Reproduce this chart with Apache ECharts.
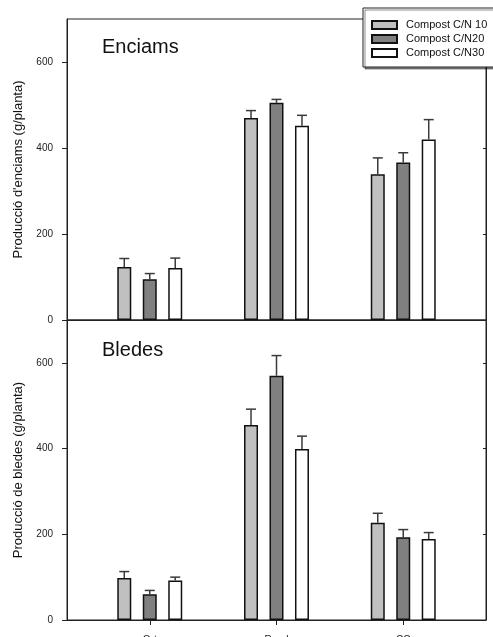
<!DOCTYPE html>
<html><head><meta charset="utf-8">
<script src="https://cdn.jsdelivr.net/npm/echarts@6/dist/echarts.min.js"></script>
<style>html,body{margin:0;padding:0;background:#fff}#c{width:493px;height:637px}</style>
</head><body><div id="c"></div>
<script>
const categories = ['Ort', 'Rural', 'CC'];
const seriesNames = ['Compost C/N 10', 'Compost C/N20', 'Compost C/N30'];
const enciamsCN10 = [123, 470, 339];
const enciamsCN20 = [95, 505, 366];
const enciamsCN30 = [121, 452, 420];
const enciamsErrCN10 = [20, 17, 38];
const enciamsErrCN20 = [13, 8, 23];
const enciamsErrCN30 = [23, 24, 46];
const bledesCN10 = [98, 455, 227];
const bledesCN20 = [60, 570, 193];
const bledesCN30 = [92, 399, 189];
const bledesErrCN10 = [15, 37, 22];
const bledesErrCN20 = [9, 47, 18];
const bledesErrCN30 = [8, 30, 15];
const yTicks = [0, 200, 400, 600];
const yRightTicks = [200, 400, 600];
const panelTitles = ['Enciams', 'Bledes'];
const yNames = ["Producció d'enciams (g/planta)", 'Producció de bledes (g/planta)'];

const FONT = 'Liberation Sans, Arial, Helvetica, sans-serif';
const barColors = ['#c0c0c0', '#808080', '#ffffff'];
const BAR_W = 14, BAR_GAP = 0.82;
const catIdx = categories.map((c, i) => i);

const panels = [
  { vals: [enciamsCN10, enciamsCN20, enciamsCN30], errs: [enciamsErrCN10, enciamsErrCN20, enciamsErrCN30] },
  { vals: [bledesCN10, bledesCN20, bledesCN30], errs: [bledesErrCN10, bledesErrCN20, bledesErrCN30] }
];

const axisLineStyle = { color: '#222', width: 1 };
const grids = [
  { left: 67, top: 19, width: 419, height: 301, show: true, borderColor: '#222', borderWidth: 1, containLabel: false, outerBoundsMode: 'none' },
  { left: 67, top: 320, width: 419, height: 300, show: true, borderColor: '#222', borderWidth: 1, containLabel: false, outerBoundsMode: 'none' }
];
const xAxes = [0, 1].map(g => ({
  gridIndex: g, type: 'value', min: -0.653, max: 2.653, position: 'bottom',
  axisLine: { show: true, onZero: false, lineStyle: axisLineStyle },
  splitLine: { show: false },
  axisTick: { show: g === 1, customValues: catIdx, length: 5, lineStyle: axisLineStyle },
  axisLabel: { show: g === 1, customValues: catIdx, formatter: v => categories[Math.round(v)] || '',
    margin: 15, fontSize: 10, color: '#222', fontFamily: FONT }
}));
const yAxes = [];
[0, 1].forEach(g => {
  yAxes.push({
    gridIndex: g, type: 'value', min: 0, max: 700, position: 'left',
    name: yNames[g], nameLocation: 'middle', nameGap: 38,
    nameTextStyle: { fontSize: 13, color: '#111', fontFamily: FONT },
    axisLine: { show: true, onZero: false, lineStyle: axisLineStyle },
    splitLine: { show: false },
    axisTick: { show: true, customValues: yTicks, length: 5, lineStyle: axisLineStyle },
    axisLabel: { show: true, customValues: yTicks, margin: 14, fontSize: 10, color: '#222', fontFamily: FONT }
  });
});
[0, 1].forEach(g => {
  yAxes.push({
    gridIndex: g, type: 'value', min: 0, max: 700, position: 'right',
    axisLine: { show: true, onZero: false, lineStyle: axisLineStyle },
    splitLine: { show: false },
    axisTick: { show: true, inside: true, customValues: yRightTicks, length: 3, lineStyle: axisLineStyle },
    axisLabel: { show: false }
  });
});

const series = [];
panels.forEach((p, g) => {
  p.vals.forEach((vals, k) => {
    series.push({
      type: 'bar', name: seriesNames[k], xAxisIndex: g, yAxisIndex: g,
      barWidth: BAR_W, barGap: (BAR_GAP * 100) + '%',
      itemStyle: { color: barColors[k], borderColor: '#111', borderWidth: 1.5 },
      data: catIdx.map(i => [i, vals[i]]), z: 2, animation: false
    });
  });
  p.vals.forEach((vals, k) => {
    const offset = (k - 1) * BAR_W * (1 + BAR_GAP);
    series.push({
      type: 'custom', xAxisIndex: g, yAxisIndex: g, z: 3, animation: false, silent: true,
      data: catIdx.map(i => [i, vals[i], p.errs[k][i]]),
      renderItem: (params, api) => {
        const x = api.value(0), y = api.value(1), e = api.value(2);
        const p0 = api.coord([x, y]);
        const p1 = api.coord([x, y + e]);
        const cx = p0[0] + offset;
        const st = { stroke: '#3a3a3a', lineWidth: 1.5 };
        return { type: 'group', children: [
          { type: 'line', shape: { x1: cx, y1: p0[1], x2: cx, y2: p1[1] }, style: st },
          { type: 'line', shape: { x1: cx - 5, y1: p1[1], x2: cx + 5, y2: p1[1] }, style: st }
        ]};
      }
    });
  });
});

const chart = echarts.init(document.getElementById('c'), null, { renderer: 'canvas' });
chart.setOption({
  animation: false,
  backgroundColor: '#fff',
  title: [
    { text: panelTitles[0], left: 102, top: 37, padding: 0, textStyle: { fontSize: 20, fontWeight: 'normal', color: '#111', fontFamily: FONT } },
    { text: panelTitles[1], left: 102, top: 340, padding: 0, textStyle: { fontSize: 20, fontWeight: 'normal', color: '#111', fontFamily: FONT } }
  ],
  legend: {
    data: seriesNames, orient: 'vertical', left: 363, top: 8,
    padding: [10, 30, 7, 8], itemGap: 0, itemWidth: 25, itemHeight: 8, icon: 'rect',
    backgroundColor: '#fff', borderColor: '#222', borderWidth: 1,
    shadowColor: 'rgba(0,0,0,0.45)', shadowOffsetX: 2, shadowOffsetY: 2, shadowBlur: 0,
    textStyle: { fontSize: 11, color: '#111', fontFamily: FONT, lineHeight: 14, padding: [0, 0, 0, 4] },
    selectedMode: false, z: 10
  },
  grid: grids, xAxis: xAxes, yAxis: yAxes, series: series
});
</script></body></html>
